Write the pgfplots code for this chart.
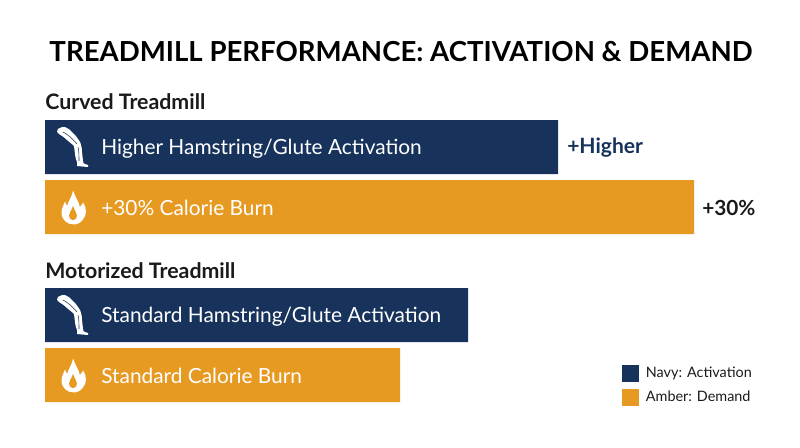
\documentclass[border=0pt]{standalone}
\usepackage{pgfplots}
\pgfplotsset{compat=1.18}
\usepackage{fontspec}
\setmainfont{Lato}
\definecolor{navy}{HTML}{17335C}
\definecolor{amber}{HTML}{E79A22}
\definecolor{ink}{HTML}{1A1A1A}
\newcommand{\legicon}[2]{%
\begin{scope}[shift={(axis cs:#1,#2)},x=0.75pt,y=0.75pt]
\fill[white] (-12,18) .. controls (-9,20) and (-7,20) .. (-5,20) .. controls (-2,19) and (0,17) .. (2,15)
 .. controls (5,12) and (7,10) .. (8,8) .. controls (10,5) and (11,4) .. (11,2)
 .. controls (12,-1) and (12,-3) .. (12,-5) -- (13,-14) .. controls (13,-16) and (14,-17) .. (15,-17)
 -- (18,-18) -- (18,-20) -- (7,-19) -- (7,-15) .. controls (6,-12) and (5,-10) .. (5,-7)
 -- (4,1) .. controls (1,4) and (-1,5) .. (-3,7) .. controls (-6,10) and (-8,11) .. (-11,13)
 .. controls (-13,14) and (-14,16) .. (-12,18) -- cycle;
\draw[navy,line width=0.4pt] (-7,15) .. controls (-3,13) and (2,9) .. (7,3);
\draw[navy,line width=0.4pt] (8,0) .. controls (9,-4) and (9,-9) .. (9,-14);
\end{scope}}
\newcommand{\flameicon}[2]{%
\begin{scope}[shift={(axis cs:#1,#2)},x=0.86pt,y=0.82pt]
\fill[white] (0,15) .. controls (2,9) and (5,5) .. (6,0) .. controls (7,1) and (8,3) .. (9,4)
 .. controls (12,-1) and (12,-7) .. (9,-11) .. controls (7,-14) and (4,-16) .. (1,-16)
 .. controls (-5,-16) and (-10,-12) .. (-10,-5) .. controls (-10,-1) and (-8,2) .. (-7,5)
 .. controls (-6,3) and (-6,2) .. (-5,1) .. controls (-4,6) and (-1,9) .. (0,15) -- cycle;
\fill[amber] (0,1) .. controls (1,-3) and (3.5,-5) .. (3.5,-8) .. controls (3.5,-10) and (2,-12) .. (0,-12)
 .. controls (-2,-12) and (-3.5,-10) .. (-3.5,-8) .. controls (-3.5,-5) and (-1,-3) .. (0,1) -- cycle;
\end{scope}}
\begin{document}
\begin{tikzpicture}
\begin{axis}[
  scale only axis, width=600pt, height=335.25pt,
  xmin=-45, xmax=755, ymin=0, ymax=447, y dir=reverse,
  hide axis, clip=false,
  xbar, bar shift=0pt, bar width=40.5pt,
  legend cell align=left,
  legend style={at={(axis cs:577,364)},anchor=north west,draw=none,fill=none,
    font=\fontsize{10.8pt}{12pt}\selectfont\color{ink},row sep=4.6pt,inner sep=0pt,
    /tikz/every odd column/.style={column sep=3pt}},
  legend image code/.code={\fill[#1] (0pt,-6.4pt) rectangle (12.75pt,6.4pt);},
]
\addplot[fill=navy,draw=none] coordinates {(513,147) (423,315)};
\addlegendentry{Navy: Activation}
\addplot[fill=amber,draw=none] coordinates {(649,207) (355,375)};
\addlegendentry{Amber: Demand}
\node[anchor=base,font=\fontsize{20.7pt}{22pt}\selectfont\bfseries,text=black] at (axis cs:356,61) {TREADMILL PERFORMANCE: ACTIVATION \& DEMAND};
\node[anchor=base west,inner sep=0pt,font=\fontsize{16pt}{18pt}\selectfont\bfseries,text=ink] at (axis cs:0,109) {Curved Treadmill};
\node[anchor=base west,inner sep=0pt,font=\fontsize{16pt}{18pt}\selectfont\bfseries,text=ink] at (axis cs:0,278) {Motorized Treadmill};
\node[anchor=west,inner sep=0pt,font=\fontsize{15.65pt}{18pt}\selectfont,text=white] at (axis cs:56,148.5) {Higher Hamstring/Glute Activation};
\node[anchor=west,inner sep=0pt,font=\fontsize{15.65pt}{18pt}\selectfont,text=white] at (axis cs:56,208) {+30\% Calorie Burn};
\node[anchor=west,inner sep=0pt,font=\fontsize{15.65pt}{18pt}\selectfont,text=white] at (axis cs:56,316.5) {Standard Hamstring/Glute Activation};
\node[anchor=west,inner sep=0pt,font=\fontsize{15.65pt}{18pt}\selectfont,text=white] at (axis cs:56,376) {Standard Calorie Burn};
\node[anchor=west,inner sep=0pt,font=\fontsize{15.8pt}{18pt}\selectfont\bfseries,text=navy] at (axis cs:522,148) {+Higher};
\node[anchor=west,inner sep=0pt,font=\fontsize{15.6pt}{18pt}\selectfont\bfseries,text=ink] at (axis cs:657,208) {+30\%};
\legicon{25}{147}\legicon{25}{315}
\flameicon{28}{207}\flameicon{28}{375}
\end{axis}
\path[use as bounding box] (0,0) rectangle (600pt,335.25pt);
\end{tikzpicture}
\end{document}
